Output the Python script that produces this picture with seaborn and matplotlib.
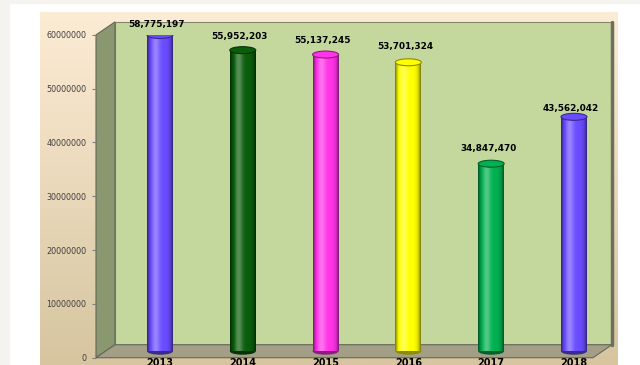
import numpy as np
import matplotlib
matplotlib.use("Agg")
import matplotlib.pyplot as plt
import matplotlib.transforms as mtransforms
from matplotlib.patches import Rectangle, Polygon, Ellipse
from matplotlib.ticker import FuncFormatter
from matplotlib.colors import to_rgb
import seaborn as sns


years = ["2013", "2014", "2015", "2016", "2017", "2018"]
values = [58775197, 55952203, 55137245, 53701324, 34847470, 43562042]
bar_colors = ["#6a4cff", "#0b5d0b", "#ff33e8", "#ffff00", "#00b050", "#6a4cff"]
y_ticks = [0, 10000000, 20000000, 30000000, 40000000, 50000000, 60000000]

# how far each value label floats above its bar, in pixels
label_lift = [16.5, 20, 21, 22, 22, 15]

sns.set_style("white")
plt.rcParams['font.family'] = ['DejaVu Sans']

W, H = 640, 365
fig = plt.figure(figsize = (6.4, 3.65), dpi = 100, facecolor = "white")

# page edges
fig.add_artist(Rectangle((0, 0), 9 / W, 1, transform = fig.transFigure, color = "#f4f3ef", zorder = 0))
fig.add_artist(Rectangle((0, 1 - 3 / H), 1, 3 / H, transform = fig.transFigure, color = "#f4f3ef", zorder = 0))

# chart area gradient
bg = fig.add_axes([40 / W, 0, 578 / W, 353 / H], zorder = 0)
g = np.linspace(0, 1, 256)[:, None, None]
img = np.array(to_rgb("#fdecd5")) * (1 - g) + np.array(to_rgb("#d6c59f")) * g
bg.imshow(img, aspect = "auto", extent = (0, 1, 0, 1))
bg.axis("off")

# plot area (front plane of the 3d box)
ax = fig.add_axes([96 / W, (H - 357.7) / H, 497 / W, 322.8 / H], zorder = 1)
ax.set_facecolor("none")

dx, dy = 19 / 497, 13 / 322.8
back = Rectangle((dx, dy), 1, 1, transform = ax.transAxes, fc = "#c4d89d", ec = "#86866f",
                 lw = 0.8, clip_on = False, zorder = 0.2)
side = Polygon([(0, 0), (dx, dy), (dx, 1 + dy), (0, 1)], transform = ax.transAxes, fc = "#8a976f",
               ec = "#66665a", lw = 0.8, clip_on = False, zorder = 0.3)
floor = Polygon([(0, 0), (1, 0), (1 + dx, dy), (dx, dy)], transform = ax.transAxes, fc = "#a39e86",
                ec = "#66665a", lw = 0.8, clip_on = False, zorder = 0.4)
for p in (back, side, floor):
    ax.add_patch(p)
ax.plot([1 + dx, 1 + dx], [dy, 1 + dy], transform = ax.transAxes, color = "#6f6f60", lw = 2.5,
        clip_on = False, zorder = 0.25)

sns.barplot(x = years, y = values, hue = years, palette = bar_colors, legend = False,
            width = 0.314, saturation = 1, linewidth = 0, ax = ax, zorder = 2)
bars = [p for p in ax.patches if p not in (back, side, floor)]

# bars sit half way into the box
shift = mtransforms.offset_copy(ax.transData, fig = fig, x = 0, y = 6.5, units = "dots")

t = np.linspace(0, 1, 64)
b = 0.32 * np.exp(-((t - 0.33) / 0.16) ** 2) - 0.55 * (np.abs(t - 0.5) * 2) ** 5
shade = np.zeros((1, 64, 4))
shade[0, :, :3] = (b > 0)[:, None]
shade[0, :, 3] = np.abs(b)

cap_h = 1.3e6
for p, lift in zip(bars, label_lift):
    x0, w, h = p.get_x(), p.get_width(), p.get_height()
    col = p.get_facecolor()
    dark = tuple(np.array(col[:3]) * 0.55)
    p.set_transform(shift)
    ax.add_patch(Ellipse((x0 + w / 2, 0), w, cap_h, transform = shift, fc = dark, ec = "none", zorder = 1.9))
    im = ax.imshow(shade, extent = (x0, x0 + w, 0, h), aspect = "auto", transform = shift,
                   zorder = 2.1, interpolation = "bilinear")
    im.set_clip_path(p)
    ax.add_patch(Ellipse((x0 + w / 2, h), w, cap_h, transform = shift, fc = col, ec = dark,
                         lw = 0.8, zorder = 2.2))
    ax.annotate(f"{int(round(h)):,}", (x0 + w / 2, h), xytext = (-3, lift), textcoords = "offset pixels",
                ha = "center", va = "center", fontsize = 6.4, fontweight = "bold", color = "black",
                zorder = 3)

ax.set_xlim(-0.773, 5.23)
ax.set_ylim(0, 60000000)
ax.set_yticks(y_ticks)
ax.yaxis.set_major_formatter(FuncFormatter(lambda v, pos: f"{int(v)}"))
ax.tick_params(axis = "y", left = True, length = 3, width = 0.8, color = "#7f7f7f", pad = 4,
               labelsize = 5.8, labelcolor = "#404040")
ax.tick_params(axis = "x", bottom = False, length = 0, pad = 0, labelsize = 7, labelcolor = "black")
for lab in ax.get_xticklabels():
    lab.set_fontweight("bold")
ax.set_xlabel("")
ax.set_ylabel("")
for s in ax.spines.values():
    s.set_visible(False)

plt.savefig("out.png", dpi = 100)
plt.close()
